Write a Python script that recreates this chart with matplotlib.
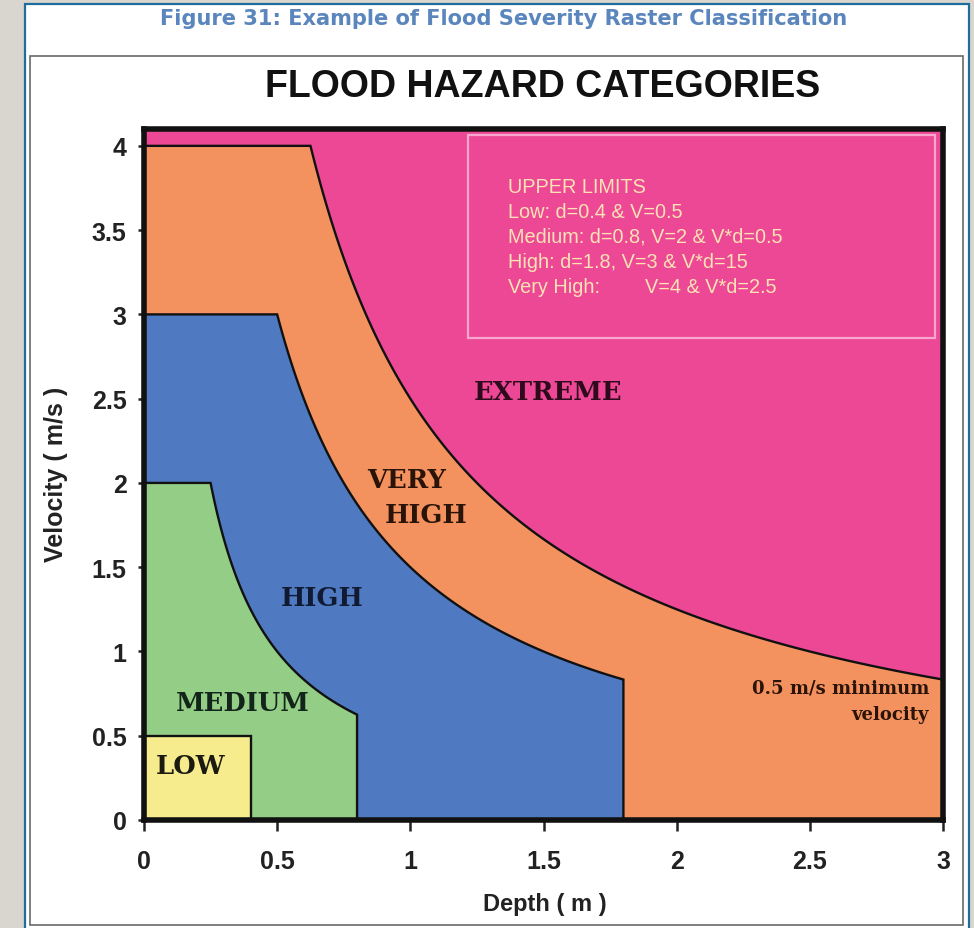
import numpy as np
import matplotlib.pyplot as plt
from matplotlib.patches import Rectangle, Polygon

# -----------------------------
# 1. HAZARD LIMITS
# -----------------------------
depth_max = 3.0
vel_max = 4.1

low_d, low_v = 0.4, 0.5
medium_d, medium_v, medium_vd = 0.8, 2.0, 0.5
high_d, high_v, high_vd = 1.8, 3.0, 1.5
vhigh_d, vhigh_v, vhigh_vd = 3.0, 4.0, 2.5

x_ticks = [0, 0.5, 1, 1.5, 2, 2.5, 3]
x_tick_labels = ["0", "0.5", "1", "1.5", "2", "2.5", "3"]
y_ticks = [0, 0.5, 1, 1.5, 2, 2.5, 3, 3.5, 4]
y_tick_labels = ["0", "0.5", "1", "1.5", "2", "2.5", "3", "3.5", "4"]

limit_lines = [
    "UPPER LIMITS",
    "Low: d=0.4 & V=0.5",
    "Medium: d=0.8, V=2 & V*d=0.5",
    "High: d=1.8, V=3 & V*d=15",
    "Very High:",
]

colors = {
    "extreme": "#EC4896",
    "very_high": "#F4925F",
    "high": "#4F79C0",
    "medium": "#93CD86",
    "low": "#F6EC8E",
}


def zone(d_lim, v_lim, vd_lim):
    # region below V=v_lim, V*d=vd_lim and d=d_lim
    d = np.linspace(vd_lim / v_lim, d_lim, 300)
    xs = np.concatenate([[0, 0], d, [d_lim]])
    ys = np.concatenate([[0, v_lim], vd_lim / d, [0]])
    return np.column_stack([xs, ys])


# -----------------------------
# 2. FIGURE FRAME
# -----------------------------
W, H = 974, 929
fig = plt.figure(figsize=(W / 100, H / 100), dpi=100)
fig.patch.set_facecolor("#d9d5cf")


def fx(px):
    return px / W


def fy(py):
    return 1 - py / H


fig.patches.append(Rectangle((fx(25), fy(931)), fx(969) - fx(25), fy(5) - fy(931),
                             transform=fig.transFigure, facecolor="white",
                             edgecolor="#1f6d9c", linewidth=1.6, zorder=-2))
fig.patches.append(Rectangle((fx(30), fy(926)), fx(963) - fx(30), fy(57) - fy(926),
                             transform=fig.transFigure, facecolor="none",
                             edgecolor="#6a6a6a", linewidth=1.2, zorder=-1))

fig.text(fx(504), fy(19), "Figure 31: Example of Flood Severity Raster Classification",
         ha="center", va="center", fontsize=15.1, fontweight="bold",
         color="#5a86bd", family="DejaVu Sans")
fig.text(fx(543), fy(87), "FLOOD HAZARD CATEGORIES", ha="center", va="center",
         fontsize=27, fontweight="bold", color="#111111", family="Liberation Sans")

# -----------------------------
# 3. HAZARD ZONES
# -----------------------------
ax = fig.add_axes([fx(144), fy(821), fx(943) - fx(144), fy(130) - fy(821)])
ax.set_xlim(0, depth_max)
ax.set_ylim(0, vel_max)
ax.set_facecolor(colors["extreme"])

edge = dict(edgecolor="#111111", linewidth=1.7, joinstyle="miter")
ax.add_patch(Polygon(zone(vhigh_d, vhigh_v, vhigh_vd), closed=True,
                     facecolor=colors["very_high"], zorder=1, **edge))
ax.add_patch(Polygon(zone(high_d, high_v, high_vd), closed=True,
                     facecolor=colors["high"], zorder=1.1, **edge))
ax.add_patch(Polygon(zone(medium_d, medium_v, medium_vd), closed=True,
                     facecolor=colors["medium"], zorder=1.2, **edge))
ax.add_patch(Rectangle((0, 0), low_d, low_v, facecolor=colors["low"],
                       zorder=1.3, **edge))

lab = dict(family="DejaVu Serif", fontweight="bold", fontsize=18.5,
           ha="center", va="center", zorder=4)
ax.text(1.516, 2.54, "EXTREME", color="#2e0a1c", **lab)
ax.text(0.987, 2.02, "VERY", color="#2a1408", **lab)
ax.text(1.06, 1.81, "HIGH", color="#2a1408", **lab)
ax.text(0.669, 1.32, "HIGH", color="#101a33", **lab)
ax.text(0.372, 0.695, "MEDIUM", color="#13241a", **lab)
ax.text(0.176, 0.323, "LOW", color="#1a1a10", **lab)

note = dict(family="DejaVu Serif", fontweight="bold", fontsize=13,
            ha="right", va="center", color="#2a1408", zorder=4)
ax.text(2.947, 0.784, "0.5 m/s minimum", **note)
ax.text(2.947, 0.63, "velocity", **note)

# upper limits box
ax.add_patch(Rectangle((1.216, 2.862), 2.969 - 1.216, 4.066 - 2.862, fill=False,
                       edgecolor="#f8a6cd", linewidth=1.6, zorder=3))
for i, line in enumerate(limit_lines):
    ax.text(1.366, 3.76 - i * 0.148, line, fontsize=14.3, color="#fde2b4",
            family="Liberation Sans", ha="left", va="center", zorder=4)
ax.text(1.881, 3.76 - 4 * 0.148, "V=4 & V*d=2.5", fontsize=14.3, color="#fde2b4",
        family="Liberation Sans", ha="left", va="center", zorder=4)

# -----------------------------
# 4. AXES STYLE
# -----------------------------
for s in ax.spines.values():
    s.set_linewidth(4)
    s.set_color("#111111")
    s.set_zorder(5)

ax.set_xticks(x_ticks)
ax.set_xticklabels(x_tick_labels)
ax.set_yticks(y_ticks)
ax.set_yticklabels(y_tick_labels)
ax.tick_params(axis="x", direction="out", length=8, width=1.8, pad=13,
               labelsize=18, colors="#222222")
ax.tick_params(axis="y", direction="out", length=4.5, width=1.8, pad=8,
               labelsize=18, colors="#222222")
for t in ax.get_xticklabels() + ax.get_yticklabels():
    t.set_fontweight("bold")
    t.set_family("Liberation Sans")

fig.text(fx(545), fy(905), "Depth ( m )", ha="center", va="center", fontsize=17,
         fontweight="bold", color="#222222", family="Liberation Sans")
fig.text(fx(56), fy(474), "Velocity ( m/s )", ha="center", va="center", fontsize=18,
         fontweight="bold", color="#222222", family="Liberation Sans", rotation=90)

plt.savefig("out.png", dpi=100, facecolor=fig.get_facecolor())
